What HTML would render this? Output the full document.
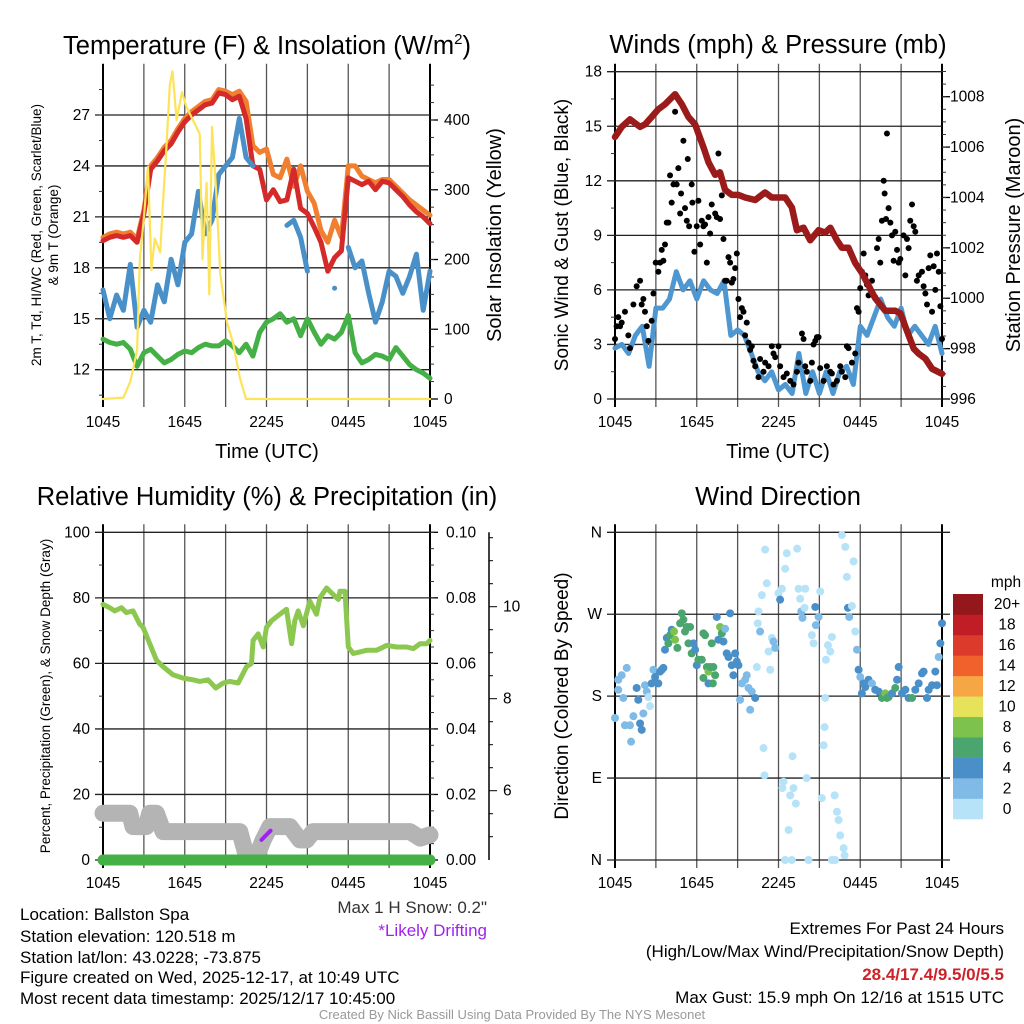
<!DOCTYPE html>
<html><head><meta charset="utf-8">
<style>
html,body{margin:0;padding:0;background:#fff;}
svg{display:block;font-family:"Liberation Sans",Arial,sans-serif;}
</style></head>
<body>
<svg id="fig" width="1024" height="1024" viewBox="0 0 1024 1024" xmlns="http://www.w3.org/2000/svg"></svg>
<script>
// ---------- DATA ----------
const halfHours = [];
for (let i = 0; i <= 48; i++) halfHours.push(i * 0.5);
const xTickLabels = ["1045","1645","2245","0445","1045"];

const temp2m = [19.6,19.8,19.9,19.8,19.9,19.5,21.2,23.8,24.3,24.9,25.3,26.0,26.6,27.0,27.3,27.6,27.7,28.3,28.2,27.9,28.1,26.8,24.0,23.8,22.0,22.6,21.9,22.0,23.8,21.5,21.2,20.4,19.5,17.8,18.6,19.0,23.3,23.1,22.9,23.1,22.6,23.1,23.0,22.6,22.2,21.7,21.3,21.0,20.6];
const temp9m = [19.8,20.0,20.1,20.0,20.1,19.7,21.4,24.0,24.5,25.1,25.5,26.2,26.8,27.2,27.5,27.8,27.9,28.5,28.4,28.2,28.4,27.8,25.2,24.8,25.0,23.5,23.3,24.4,22.8,24.0,22.5,21.8,20.2,19.5,20.8,19.8,24.0,24.0,23.4,23.2,23.0,23.2,23.2,22.8,22.4,22.0,21.7,21.4,21.1];
const dewPoint = [16.7,15.0,16.4,15.5,18.2,14.5,15.5,14.8,17.0,16.0,18.5,17.0,19.5,20.0,22.5,20.0,20.8,23.5,24.0,24.5,26.8,24.5,24.0,null,null,null,null,20.5,20.8,19.8,17.8,null,null,null,16.8,null,19.2,18.0,18.4,16.5,14.8,16.0,17.8,17.5,16.5,17.5,18.8,15.5,17.8];
const windChill = [13.8,13.6,13.5,13.6,13.2,12.2,13.0,13.2,12.8,12.4,12.6,12.9,13.1,13.0,13.3,13.5,13.4,13.4,13.7,13.4,13.0,13.5,12.8,14.2,14.8,15.0,15.3,14.8,15.0,14.0,15.0,14.2,13.5,14.0,13.8,14.2,15.2,13.0,12.4,12.6,12.9,12.8,12.6,13.3,12.8,12.3,12.0,11.8,11.5];
const solarHours = [0,1.5,2,2.5,2.7,3.0,3.3,3.55,3.8,4.2,4.4,4.65,4.9,5.1,5.4,5.8,6.1,6.6,7.1,7.3,7.6,7.8,8.0,8.3,8.6,9.1,9.55,10.05,10.5,24];
const solarValues = [0,2,25,70,200,260,333,185,230,210,280,360,450,470,400,440,420,400,380,200,310,150,390,300,180,110,80,30,0,0];
const tempTicks = [12,15,18,21,24,27];
const solarTicks = [0,100,200,300,400];

const windSpeed = [2.8,3.0,2.5,3.5,4.0,1.8,5.0,5.0,5.5,7.0,6.0,6.5,5.5,6.5,6.0,5.8,6.5,3.5,3.8,3.5,2.5,1.5,1.0,1.5,0.5,0.8,0.3,2.5,0.3,1.5,0.3,1.5,0.3,1.5,1.8,0.8,4.0,3.5,4.5,5.5,4.5,4.0,5.0,3.5,4.0,3.5,3.0,4.0,2.5];
const gustHours = [0,0.12,0.24,0.37,0.49,0.73,0.98,1.1,1.35,1.59,1.84,1.96,2.08,2.2,2.33,2.45,2.69,2.82,2.99,3.18,3.31,3.43,3.55,3.67,3.8,3.92,4.04,4.16,4.29,4.41,4.53,4.65,4.78,4.85,5.02,5.14,5.27,5.34,5.44,5.63,5.68,5.83,6.0,6.12,6.25,6.37,6.49,6.61,6.74,6.86,6.98,7.1,7.35,7.47,7.59,7.71,7.84,7.96,8.08,8.2,8.33,8.45,8.57,8.69,8.82,8.94,9.06,9.18,9.31,9.43,9.55,9.67,9.8,9.92,10.04,10.16,10.29,10.53,10.65,10.9,11.02,11.27,11.51,11.63,11.76,12.0,12.12,12.37,12.61,12.86,13.1,13.35,13.47,13.72,13.84,13.96,14.08,14.33,14.45,14.57,14.7,14.82,14.94,15.06,15.31,15.55,15.8,15.92,16.04,16.29,16.53,16.65,16.9,17.02,17.14,17.39,17.63,17.76,17.88,18.0,18.12,18.25,18.37,18.49,18.61,18.74,18.86,19.1,19.23,19.35,19.47,19.59,19.72,19.79,19.89,19.96,20.08,20.21,20.33,20.45,20.57,20.7,20.82,20.94,21.18,21.31,21.43,21.55,21.67,21.8,21.92,22.04,22.16,22.29,22.53,22.65,22.78,22.9,23.02,23.14,23.27,23.39,23.51,23.63,23.76,23.88,24];
const gustValues = [3.3,4.0,4.5,4.0,4.2,4.8,3.5,2.8,5.2,6.2,6.5,5.2,5.5,4.8,4.0,3.2,4.3,5.8,7.5,7.0,7.5,8.2,7.6,8.5,9.7,9.7,12.3,10.8,11.8,15.8,11.8,12.7,10.2,11.3,14.2,10.5,9.8,13.2,9.5,11.8,10.8,8.1,9.5,10.9,8.5,9.8,9.5,9.6,7.5,10.0,9.1,10.7,10.2,10.0,13.5,9.9,11.2,8.8,6.5,6.5,7.8,7.5,6.4,6.6,7.2,8.0,5.5,4.5,5.0,4.8,3.5,4.2,3.1,2.7,2.9,2.1,1.8,1.2,2.2,1.5,2.0,1.8,2.9,2.5,2.3,2.9,1.8,1.2,1.4,1.0,0.8,1.5,2.0,3.6,3.3,1.8,1.5,1.0,2.0,3.0,3.2,3.4,3.4,1.7,1.0,1.8,1.5,1.4,0.8,1.0,1.8,1.5,1.2,2.9,2.8,2.0,2.5,5.0,4.8,6.1,7.0,8.0,6.8,6.3,5.7,6.0,6.5,5.6,8.3,8.8,7.5,9.8,12.0,11.3,9.9,14.6,10.5,9.7,9.0,7.6,9.2,8.2,7.5,7.7,9.0,6.8,8.8,8.3,9.8,10.7,9.5,9.2,6.5,6.8,7.0,6.2,5.8,5.2,7.2,7.9,4.8,7.3,6.0,8.0,7.0,5.1,3.3];
const pressHours = [0,0.49,1.1,1.84,2.2,2.69,3.18,3.67,4.41,4.9,5.39,5.88,6.49,6.86,7.35,7.71,8.08,8.57,9.06,9.55,10.29,11.02,11.51,12.49,12.98,13.35,13.84,14.33,14.94,15.43,15.8,16.29,16.65,17.14,17.63,18.12,18.61,19.1,19.84,20.57,20.94,21.43,21.92,22.29,22.78,23.27,24];
const pressValues = [1006.4,1006.8,1007.1,1006.8,1006.9,1007.2,1007.5,1007.7,1008.1,1007.7,1007.2,1006.9,1006.0,1005.4,1004.9,1005.0,1004.3,1004.1,1004.1,1004.0,1003.9,1004.2,1004.0,1004.0,1003.6,1002.7,1002.8,1002.3,1002.7,1002.6,1002.8,1002.3,1002.0,1002.0,1001.4,1001.0,1000.5,1000.0,999.5,999.5,999.4,998.7,998.0,997.8,997.6,997.2,997.0];
const windTicks = [0,3,6,9,12,15,18];
const pressTicks = [996,998,1000,1002,1004,1006,1008];

const rhHours = [0,0.49,0.86,1.35,1.71,2.2,2.69,2.94,3.43,3.92,4.41,5.14,5.88,6.61,7.1,7.71,8.28,8.82,9.31,9.92,10.53,10.9,11.02,11.39,11.76,12.0,12.37,12.98,13.47,13.84,14.08,14.33,14.7,15.18,15.67,15.92,16.41,16.9,17.27,17.39,17.76,18.0,18.37,18.86,19.35,20.08,20.82,21.55,22.29,22.78,23.27,23.76,24];
const rhValues = [78,77,76,77,75.5,76,72,71,66,61,59,56.5,55.5,55,54.5,55,52.5,54,54.5,54,59,60,67,69,65,71,73,75,76.5,66,73,76,71.5,79,75,80,83,81,79.5,82,82,65,63,63.5,64,64,65.5,65,65,64.5,66,66,67];
const snowHours = [0,1.96,2.2,3.18,3.43,3.92,4.41,10.04,10.53,11.27,11.76,12.25,13.72,14.45,14.94,15.43,22.53,23.27,24];
const snowValues = [5.51,5.51,5.22,5.22,5.51,5.51,5.11,5.11,4.57,4.57,4.93,5.22,5.22,4.93,4.93,5.11,5.11,4.97,5.04];
const driftHours = [11.63,12.29];
const driftValues = [4.93,5.13];
const precipHours = [0,24];
const precipValues = [0,0];
const rhTicks = [0,20,40,60,80,100];
const precipTickLabels = ["0.00","0.02","0.04","0.06","0.08","0.10"];
const precipTicks = [0,0.02,0.04,0.06,0.08,0.10];
const snowTicks = [6,8,10];

const dirHours = [0,0.24,0.49,0.86,0.24,0.61,0.73,1.1,1.18,1.35,1.59,1.71,1.84,1.96,2.08,2.2,2.33,2.45,2.57,2.69,2.82,2.94,3.18,3.31,3.43,3.55,3.67,3.8,3.92,4.04,4.16,4.33,4.41,4.58,4.78,4.9,5.02,5.14,5.27,5.39,5.51,5.63,5.76,5.88,6.0,6.12,6.37,6.49,6.61,6.74,6.86,6.98,7.1,7.22,6.49,6.86,7.18,7.35,7.47,7.59,7.71,7.84,7.96,8.08,8.2,8.33,8.45,8.57,8.69,8.82,8.94,9.06,9.18,9.31,9.55,9.67,9.8,9.92,10.04,10.29,10.41,10.53,10.48,10.65,10.78,10.9,10.97,11.02,11.14,11.27,11.39,11.51,11.63,11.76,12.0,12.12,12.25,12.37,12.29,12.49,12.61,12.74,12.86,13.03,13.1,13.27,13.37,13.47,13.59,13.67,13.76,13.91,13.96,14.06,14.2,12.49,12.98,14.45,14.57,14.7,14.74,14.94,15.06,15.18,15.31,15.38,15.43,15.48,15.63,15.8,15.92,16.12,16.29,16.41,16.53,16.65,16.78,16.85,15.92,16.16,16.9,17.02,17.1,17.19,17.39,17.51,17.63,17.76,17.88,18.0,18.12,18.25,18.37,18.61,18.86,19.1,19.35,19.59,19.84,19.96,20.08,20.33,20.57,20.7,20.82,21.06,21.31,21.55,21.8,22.04,22.29,22.53,22.65,22.9,23.02,23.27,23.51,23.63,23.76,23.88,24.0];
const dirDegrees = [156,198,203,211,187,178,148,148,130,158,189,176,150,143,161,192,185,179,169,194,209,201,194,207,209,211,231,244,238,247,253,251,242,233,260,271,264,251,256,238,256,227,238,231,214,220,220,249,247,212,207,212,238,212,200,194,194,203,267,242,256,249,240,254,227,223,271,214,203,227,218,214,176,194,198,203,189,165,185,178,212,273,260,251,291,123,93,341,304,229,209,244,240,233,293,286,298,86,79,320,337,33,71,114,79,62,342,298,287,273,266,277,298,90,0,0,0,247,238,278,258,267,295,68,126,146,178,220,236,229,245,71,53,44,27,357,13,5,0,0,344,311,277,267,279,328,251,231,209,201,183,194,190,198,194,187,185,178,183,178,179,183,189,198,212,183,187,178,178,187,194,205,207,178,187,192,207,192,223,238,260];
const dirSpeeds = [3,3,3,3,3,3,3,3,3,3,5,5,5,5,3,3,3,1,1,5,3,5,5,5,5,5,5,5,7,7,5,9,9,7,7,7,7,7,7,7,7,7,5,5,5,7,7,7,7,7,9,7,7,7,7,5,7,7,5,5,9,7,5,3,5,5,5,5,5,5,5,5,3,3,3,3,3,3,3,5,1,1,1,3,1,1,1,1,1,1,1,1,3,3,1,5,1,1,1,1,1,1,1,1,1,1,1,1,1,3,3,1,1,1,1,1,1,1,1,5,3,3,1,1,1,1,1,1,1,1,1,1,1,1,1,1,1,1,1,1,1,1,5,3,1,1,1,3,5,3,5,5,5,5,3,5,5,7,9,7,7,5,7,5,5,5,5,5,7,5,5,5,5,5,5,5,5,5,3,5,5];
const dirTickLabels = ["N","E","S","W","N"];
const dirTicks = [0,90,180,270,360];
const speedBinLabels = ["0","2","4","6","8","10","12","14","16","18","20+"];
const speedBinColors = ["#b6e3f8","#7fbbe6","#4a8fc7","#4aa56f","#7cc24c","#e6e25a","#f7a645","#f0612b","#dc3a2b","#c01d26","#93171b"];

// ---------- HELPERS ----------
const NS = "http://www.w3.org/2000/svg";
const svg = document.getElementById("fig");
function mk(tag, attrs, name, parent) {
  const el = document.createElementNS(NS, tag);
  for (const k in attrs) el.setAttribute(k, attrs[k]);
  
  
  (parent || svg).appendChild(el);
  return el;
}
function txt(x, y, s, size, name, opts) {
  opts = opts || {};
  const a = {x: x, y: y, "font-size": size, fill: opts.fill || "#000", "text-anchor": opts.anchor || "middle"};
  if (opts.rot) a.transform = "rotate(-90 " + x + " " + y + ")";
  if (opts.weight) a["font-weight"] = opts.weight;
  const t = mk("text", a, name);
  t.textContent = s;
  return t;
}
function linScale(d0, d1, r0, r1) { return v => r0 + (v - d0) / (d1 - d0) * (r1 - r0); }
function pathFrom(xs, ys, xf, yf) {
  let d = "", pen = false;
  for (let i = 0; i < xs.length; i++) {
    if (ys[i] === null) { pen = false; continue; }
    const px = xf(xs[i]).toFixed(1), py = yf(ys[i]).toFixed(1);
    d += (pen ? "L" : "M") + px + " " + py + " ";
    if (!pen && (i + 1 >= xs.length || ys[i + 1] === null)) d += "l0 0 ";
    pen = true;
  }
  return d;
}
function series(xs, ys, xf, yf, color, w, name, g) {
  mk("path", {d: pathFrom(xs, ys, xf, yf), fill: "none", stroke: color, "stroke-width": w, "stroke-linejoin": "round", "stroke-linecap": "round"}, name, g);
}

const L = 103, R = 430, L2 = 615, R2 = 942;
const TOP1 = 71.7, BOT1 = 399, TOP2 = 532.3, BOT2 = 860;

function frame(x0, x1, y0, y1, name, leftTicks, lf, leftMinor, rightTicks, rf, rightMinor, xLabels) {
  const g = mk("g", {}, name + "-axes");
  for (let i = 0; i <= 8; i++) {
    const x = x0 + i * (x1 - x0) / 8;
    mk("line", {x1: x, y1: y0 - 8, x2: x, y2: y1 + 8, stroke: (i === 0 || i === 8) ? "#000" : "#555", "stroke-width": (i === 0 || i === 8) ? 2 : 1.3}, name + "-vgrid", g);
  }
  leftTicks.forEach(v => {
    const y = lf(v);
    mk("line", {x1: x0 - 8, y1: y, x2: x1 + (rightTicks ? 0 : 8), y2: y, stroke: "#222", "stroke-width": 1.3}, name + "-hgrid", g);
  });
  leftMinor.forEach(v => {
    const y = lf(v);
    mk("line", {x1: x0 - 4, y1: y, x2: x0, y2: y, stroke: "#333", "stroke-width": 1}, name + "-left-minor-tick", g);
  });
  if (rightTicks) {
    rightTicks.forEach(v => {
      const y = rf(v);
      mk("line", {x1: x1, y1: y, x2: x1 + 8, y2: y, stroke: "#000", "stroke-width": 1.3}, name + "-right-tick", g);
    });
    rightMinor.forEach(v => {
      const y = rf(v);
      mk("line", {x1: x1, y1: y, x2: x1 + 4, y2: y, stroke: "#333", "stroke-width": 1}, name + "-right-minor-tick", g);
    });
  }
  xLabels.forEach((s, i) => {
    txt(x0 + i * (x1 - x0) / 4, y1 + 28, s, 15.5, name + "-x-tick-label");
  });
  return g;
}
function range(a, b, s) { const o = []; for (let v = a; v <= b + 1e-9; v += s) o.push(+v.toFixed(4)); return o; }

// ---------- PANEL 1: Temperature ----------
const x1f = linScale(0, 24, L, R);
const tY = linScale(12, 27, 369.7, 115);
const sY = linScale(0, 400, 399, 120);
frame(L, R, TOP1, BOT1, "temp", tempTicks, tY, range(10.5, 29.5, 1.5), solarTicks, sY, range(25, 450, 25), xTickLabels);
const g1 = mk("g", {}, "temp-series");
series(halfHours, temp9m, x1f, tY, "#f08030", 5, "temp-9m-line", g1);
series(halfHours, temp2m, x1f, tY, "#d42a2a", 5, "temp-2m-line", g1);
series(halfHours, dewPoint, x1f, tY, "#4a90c8", 5, "dewpoint-line", g1);
series(halfHours, windChill, x1f, tY, "#45b045", 5, "windchill-line", g1);
series(solarHours, solarValues, x1f, sY, "#fde35a", 2.2, "solar-line", g1);
tempTicks.forEach(v => txt(L - 13, tY(v) + 5, String(v), 15.5, "temp-y-tick-label", {anchor: "end"}));
solarTicks.forEach(v => txt(R + 14, sY(v) + 5, String(v), 15.5, "solar-y-tick-label", {anchor: "start"}));
(function(){
  const t = txt(267, 54, "", 25.5, "temp-title");
  const a = mk("tspan", {}, "temp-title-main", t); a.textContent = "Temperature (F) & Insolation (W/m";
  const b = mk("tspan", {dy: -10, "font-size": 15}, "temp-title-sup", t); b.textContent = "2";
  const c = mk("tspan", {dy: 10}, "temp-title-end", t); c.textContent = ")";
})();
txt(267, 458, "Time (UTC)", 20, "temp-x-title");
txt(501, 235, "Solar Insolation (Yellow)", 20, "solar-y-title", {rot: true});
txt(41, 235, "2m T, Td, HI/WC (Red, Green, Scarlet/Blue)", 13.5, "temp-y-title", {rot: true});
txt(58, 235, "& 9m T (Orange)", 13.5, "temp-y-title-line2", {rot: true});

// ---------- PANEL 2: Winds ----------
const x2f = linScale(0, 24, L2, R2);
const wY = linScale(0, 18, BOT1, TOP1);
const pY = linScale(996, 1008, 399, 96.7);
frame(L2, R2, TOP1, BOT1, "wind", windTicks, wY, range(1.5, 16.5, 3), pressTicks, pY, range(996.5, 1009, 0.5), xTickLabels);
const g2 = mk("g", {}, "wind-series");
series(halfHours, windSpeed, x2f, wY, "#4f97d0", 5, "sonic-wind-line", g2);
gustHours.forEach((h, i) => {
  mk("circle", {cx: x2f(h), cy: wY(gustValues[i]), r: 3, fill: "#000"}, "gust-point", g2);
});
series(pressHours, pressValues, x2f, pY, "#9b1b1b", 6.5, "pressure-line", g2);
windTicks.forEach(v => txt(L2 - 13, wY(v) + 5, String(v), 15.5, "wind-y-tick-label", {anchor: "end"}));
pressTicks.forEach(v => txt(R2 + 8, pY(v) + 5, String(v), 15.5, "pressure-y-tick-label", {anchor: "start"}));
txt(778, 53, "Winds (mph) & Pressure (mb)", 25.5, "wind-title");
txt(778, 458, "Time (UTC)", 20, "wind-x-title");
txt(568, 235, "Sonic Wind & Gust (Blue, Black)", 19, "wind-y-title", {rot: true});
txt(1020, 235, "Station Pressure (Maroon)", 20, "pressure-y-title", {rot: true});

// ---------- PANEL 3: RH ----------
const rY = linScale(0, 100, BOT2, TOP2);
const prY = linScale(0, 0.1, BOT2, TOP2);
const snY = linScale(8, 10, 698.7, 606.7);
frame(L, R, TOP2, BOT2, "rh", rhTicks, rY, range(10, 90, 20), precipTicks, prY, range(0.005, 0.1, 0.005), xTickLabels);
const g3 = mk("g", {}, "rh-series");
series(snowHours, snowValues, x1f, snY, "#b4b4b4", 17, "snow-depth-line", g3);
series(precipHours, precipValues, x1f, prY, "#45b045", 11, "precip-line", g3);
series(rhHours, rhValues, x1f, rY, "#8cc850", 5, "rh-line", g3);
series(driftHours, driftValues, x1f, snY, "#a020f0", 4, "drifting-snow-line", g3);
rhTicks.forEach(v => txt(L - 13, rY(v) + 5, String(v), 15.5, "rh-y-tick-label", {anchor: "end"}));
precipTicks.forEach((v, i) => txt(R + 16, prY(v) + 5, precipTickLabels[i], 15.5, "precip-y-tick-label", {anchor: "start"}));
mk("line", {x1: 489, y1: TOP2, x2: 489, y2: BOT2, stroke: "#000", "stroke-width": 1.5}, "snow-axis-line");
range(5, 11.5, 0.5).forEach(v => {
  const major = snowTicks.indexOf(v) >= 0;
  mk("line", {x1: 489, y1: snY(v), x2: 489 + (major ? 8 : 4), y2: snY(v), stroke: "#000", "stroke-width": 1}, "snow-axis-tick");
});
snowTicks.forEach(v => txt(503, snY(v) + 5, String(v), 15.5, "snow-y-tick-label", {anchor: "start"}));
txt(267, 505, "Relative Humidity (%) & Precipitation (in)", 25.5, "rh-title");
txt(50, 696, "Percent, Precipitation (Green), & Snow Depth (Gray)", 13.5, "rh-y-title", {rot: true});

// ---------- PANEL 4: Wind direction ----------
const dY = linScale(0, 360, BOT2, TOP2);
frame(L2, R2, TOP2, BOT2, "dir", dirTicks, dY, [], null, null, null, xTickLabels);
const g4 = mk("g", {}, "direction-points");
dirHours.forEach((h, i) => {
  const bin = Math.min(10, Math.floor(dirSpeeds[i] / 2));
  mk("circle", {cx: x2f(h), cy: dY(dirDegrees[i]), r: 4, fill: speedBinColors[bin]}, "direction-point", g4);
});
dirTicks.forEach((v, i) => txt(L2 - 13, dY(v) + 5, dirTickLabels[i], 15.5, "dir-y-tick-label", {anchor: "end"}));
txt(778, 505, "Wind Direction", 25.5, "dir-title");
txt(568, 696, "Direction (Colored By Speed)", 19, "dir-y-title", {rot: true});
const cbTop = 594, cbBot = 819, cbH = (cbBot - cbTop) / 11;
speedBinColors.forEach((c, i) => {
  const y = cbBot - (i + 1) * cbH;
  mk("rect", {x: 953, y: y, width: 30, height: cbH + 0.3, fill: c}, "colorbar-bin", svg);
  txt(1007, y + cbH / 2 + 5, speedBinLabels[i], 15.5, "colorbar-label");
});
txt(1006, 587, "mph", 15.5, "colorbar-title");

// ---------- TEXT ----------
const infoLines = ["Location: Ballston Spa","Station elevation: 120.518 m","Station lat/lon: 43.0228; -73.875","Figure created on Wed, 2025-12-17, at 10:49 UTC","Most recent data timestamp: 2025/12/17 10:45:00"];
const infoY = [920, 942, 963, 983, 1004];
infoLines.forEach((s, i) => txt(20, infoY[i], s, 17, "station-info-line", {anchor: "start"}));
txt(487, 913, "Max 1 H Snow: 0.2\"", 17, "max-snow-text", {anchor: "end", fill: "#333"});
txt(487, 936, "*Likely Drifting", 17, "drifting-note", {anchor: "end", fill: "#a020f0"});
txt(1004, 934, "Extremes For Past 24 Hours", 17, "extremes-title", {anchor: "end"});
txt(1004, 957, "(High/Low/Max Wind/Precipitation/Snow Depth)", 17, "extremes-subtitle", {anchor: "end"});
txt(1004, 980, "28.4/17.4/9.5/0/5.5", 17, "extremes-values", {anchor: "end", fill: "#cc2229", weight: "bold"});
txt(1004, 1003, "Max Gust: 15.9 mph On 12/16 at 1515 UTC", 17, "max-gust-text", {anchor: "end"});
txt(512, 1019, "Created By Nick Bassill Using Data Provided By The NYS Mesonet", 13, "credit-text", {fill: "#999"});
</script>
</body></html>
